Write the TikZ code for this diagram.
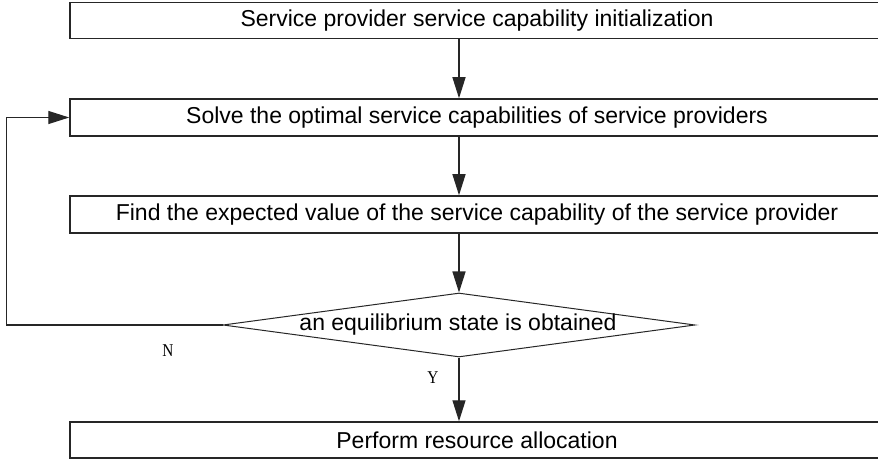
\documentclass[tikz,border=0pt]{standalone}
\usepackage{fontspec}
\setmainfont{Liberation Sans}
\newfontfamily\labelfont{Liberation Serif}
\usetikzlibrary{shapes.geometric,arrows.meta}
\begin{document}
\begin{tikzpicture}[x=1pt,y=-1pt,
  box/.style={draw=black!85,line width=1.5pt,minimum width=814pt,inner sep=0pt,anchor=center,font=\fontsize{23}{25}\selectfont},
  dec/.style={draw=black!85,line width=1pt,shape=diamond,shape aspect=7.375,minimum width=472pt,minimum height=64pt,inner sep=0pt,font=\fontsize{23}{25}\selectfont},
  arr/.style={draw=black!85,line width=1.3pt,-{Triangle[length=21pt,width=13pt]}},
  yn/.style={font=\labelfont\fontsize{18}{20}\selectfont,inner sep=0pt,xscale=0.85}]
\useasboundingbox (0,0) rectangle (878,462);
\node[box,minimum height=36pt] (b1) at (477,20.5) {Service provider service capability initialization};
\node[box,minimum height=37pt] (b2) at (477,117.5) {Solve the optimal service capabilities of service providers};
\node[box,minimum height=37pt] (b3) at (477,214.5) {Find the expected value of the service capability of the service provider};
\node[dec] (d) at (459,325) {};
\node[inner sep=0pt,font=\fontsize{23}{25}\selectfont] (td) at (458,325) {an equilibrium state is obtained};
\node[box,minimum height=36pt] (b5) at (477,440) {Perform resource allocation};
\draw[arr] (b1.south -| d.north) -- (b2.north -| d.north);
\draw[arr] (b2.south -| d.north) -- (b3.north -| d.north);
\draw[arr] (b3.south -| d.north) -- (d.north);
\draw[arr] (d.south) -- (b5.north -| d.south);
\coordinate (fb) at (6.5,325);
\draw[arr] (d.west) -- (fb) |- (b2.west);
\node[yn] (n) at (168,351) {N};
\node[yn] (y) at (433,378) {Y};
\end{tikzpicture}
\end{document}
